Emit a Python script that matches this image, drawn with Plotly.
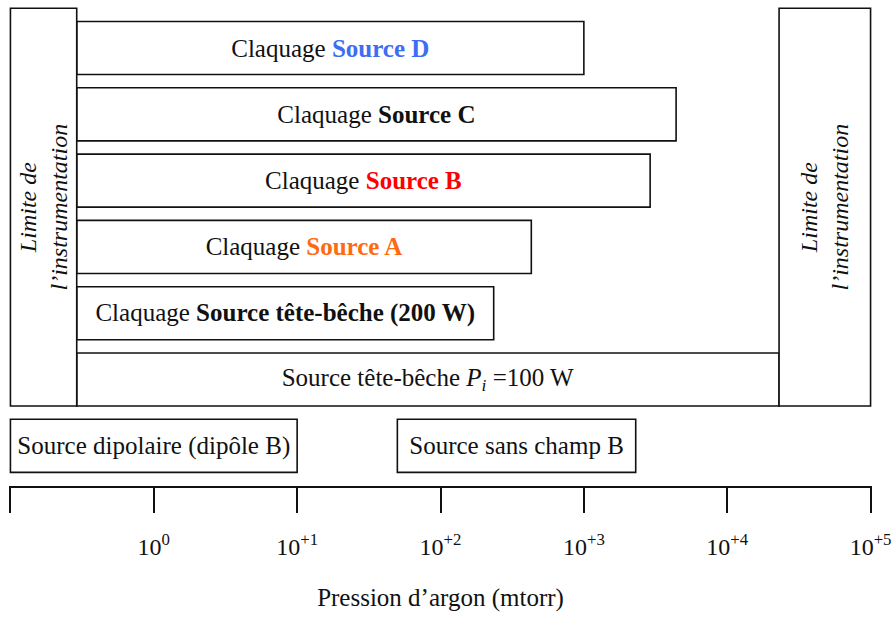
import numpy as np
import plotly.graph_objects as go

# pressure ranges in mtorr
axis_min = 0.1
axis_max = 1e5
limit_low = 0.29      # lower instrumentation limit
limit_high = 2.3e4    # upper instrumentation limit

row_labels = [
    "Claquage <b><span style='color:#3D6DF2'>Source D</span></b>",
    "Claquage <b>Source C</b>",
    "Claquage <b><span style='color:#FF0000'>Source B</span></b>",
    "Claquage <b><span style='color:#FF6A10'>Source A</span></b>",
    "Claquage <b>Source tête-bêche (200 W)</b>",
    "Source tête-bêche <i>P<sub>i</sub></i> =100 W",
]
row_high = [1000, 4400, 2900, 430, 235, 2.3e4]

lower_labels = ["Source dipolaire (dipôle B)", "Source sans champ B"]
lower_low = [0.1, 50]
lower_high = [10, 2300]

tick_vals = [0.1, 1, 10, 100, 1000, 1e4, 1e5]
tick_text = ["", "10<sup>0</sup>", "10<sup>+1</sup>", "10<sup>+2</sup>",
             "10<sup>+3</sup>", "10<sup>+4</sup>", "10<sup>+5</sup>"]

limit_text = "<i>Limite de<br>l’instrumentation</i>"

FONT = "Liberation Serif"
FS = 25
INK = "#111111"
LINE = dict(color=INK, width=1.6)
BAR_W = 0.8

n_rows = len(row_labels)
rows = np.arange(n_rows)
lower_row = n_rows

fig = go.Figure()

# breakdown rows, all starting at the lower instrument limit
fig.add_trace(go.Bar(
    orientation="h",
    y=rows,
    base=[limit_low] * n_rows,
    x=[h - limit_low for h in row_high],
    width=BAR_W,
    marker=dict(color="white", line=LINE),
    text=row_labels,
    textposition="inside",
    insidetextanchor="middle",
    constraintext="none",
    insidetextfont=dict(family=FONT, size=FS, color=INK),
    hoverinfo="skip",
))

# sources without breakdown limits (bottom row)
fig.add_trace(go.Bar(
    orientation="h",
    y=[lower_row] * len(lower_labels),
    base=lower_low,
    x=[h - l for h, l in zip(lower_high, lower_low)],
    width=BAR_W,
    marker=dict(color="white", line=LINE),
    text=lower_labels,
    textposition="inside",
    insidetextanchor="middle",
    constraintext="none",
    insidetextfont=dict(family=FONT, size=FS, color=INK),
    hoverinfo="skip",
))

# instrumentation limit boxes spanning all breakdown rows
top = rows[0] - BAR_W / 2 - 0.2
bottom = rows[-1] + BAR_W / 2
fig.add_trace(go.Bar(
    orientation="h",
    y=[(top + bottom) / 2] * 2,
    base=[axis_min, limit_high],
    x=[limit_low - axis_min, axis_max - limit_high],
    width=bottom - top,
    marker=dict(color="white", line=LINE),
    text=[limit_text, limit_text],
    textposition="inside",
    insidetextanchor="middle",
    textangle=-90,
    constraintext="none",
    insidetextfont=dict(family=FONT, size=FS - 1, color=INK),
    hoverinfo="skip",
))

fig.update_layout(
    width=895,
    height=617,
    margin=dict(l=9, r=23, t=2, b=131),
    barmode="overlay",
    showlegend=False,
    paper_bgcolor="white",
    plot_bgcolor="white",
    font=dict(family=FONT, size=FS, color=INK),
    xaxis=dict(
        type="log",
        range=[np.log10(axis_min) - 0.01, np.log10(axis_max) + 0.01],
        tickmode="array",
        tickvals=tick_vals,
        ticktext=tick_text,
        ticks="outside",
        ticklen=25,
        tickwidth=1.6,
        tickcolor=INK,
        ticklabelstandoff=13,
        showline=True,
        linecolor=INK,
        linewidth=1.6,
        showgrid=False,
        zeroline=False,
        tickfont=dict(family=FONT, size=24, color=INK),
        title=dict(text="Pression d’argon (mtorr)", standoff=30,
                   font=dict(family=FONT, size=FS, color=INK)),
        fixedrange=True,
    ),
    yaxis=dict(
        visible=False,
        range=[6.606, -0.694],
        fixedrange=True,
    ),
)

# drop the default body margin so the figure fills the window exactly
fig.write_html(
    "out.html",
    config={"displayModeBar": False},
    post_script="document.body.style.margin='0';document.body.style.overflow='hidden';",
)
